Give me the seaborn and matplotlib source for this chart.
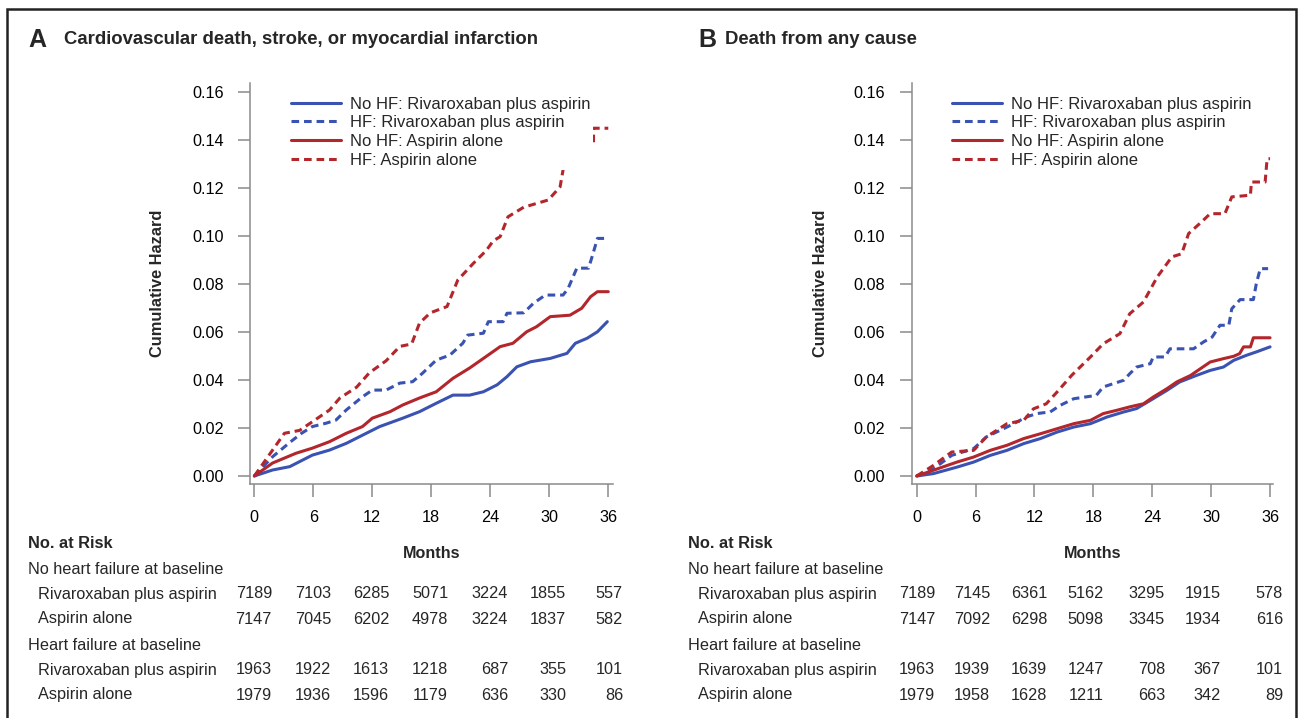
import numpy as np
import pandas as pd
import seaborn as sns
import matplotlib
matplotlib.use("Agg")
import matplotlib.pyplot as plt
from matplotlib.lines import Line2D
from matplotlib.patches import Rectangle

sns.set_theme(style="white")
plt.rcParams['font.family'] = ['Liberation Sans', 'DejaVu Sans']

# ---------------- data ----------------
series_labels = ["No HF: Rivaroxaban plus aspirin", "HF: Rivaroxaban plus aspirin",
                 "No HF: Aspirin alone", "HF: Aspirin alone"]

# Panel A: cardiovascular death, stroke, or MI
a_nohf_riva_t = [0, 1.85, 3.6, 5.9, 7.65, 9.35, 11.0, 12.75, 15.1, 16.8, 18.5, 20.2, 21.9, 23.3, 24.7,
                 25.7, 26.7, 28.1, 30.1, 31.8, 32.65, 33.85, 34.9, 35.9]
a_nohf_riva_y = [0, 0.0025, 0.0039, 0.0087, 0.0108, 0.0136, 0.017, 0.0206, 0.0241, 0.0268, 0.0303, 0.0337,
                 0.0337, 0.0351, 0.038, 0.0414, 0.0455, 0.0476, 0.049, 0.0511, 0.0553, 0.0574, 0.0601, 0.0643]
a_hf_riva_t = [0, 1.85, 3.7, 4.8, 5.9, 7.3, 8.3, 9.35, 11.0, 12.0, 13.4, 14.8, 16.1, 17.1, 18.5, 19.9, 21.2,
               21.7, 23.3, 23.8, 25.3, 25.7, 27.4, 28.4, 29.6, 31.4, 31.9, 32.8, 34.0, 34.4, 34.9, 35.9]
a_hf_riva_y = [0, 0.008, 0.0143, 0.0178, 0.0206, 0.022, 0.0233, 0.0275, 0.033, 0.0358, 0.0358, 0.0387, 0.0393,
               0.0428, 0.0483, 0.0504, 0.0553, 0.0587, 0.0595, 0.0643, 0.0643, 0.0678, 0.068, 0.072, 0.0754,
               0.0754, 0.078, 0.0866, 0.0866, 0.092, 0.099, 0.099]
a_nohf_asp_t = [0, 1.85, 4.25, 5.9, 7.65, 9.35, 11.0, 12.0, 13.8, 15.1, 16.8, 18.5, 20.2, 21.9, 23.3, 25.0,
                26.3, 27.7, 28.7, 30.1, 32.1, 33.3, 34.2, 34.9, 36.0]
a_nohf_asp_y = [0, 0.0054, 0.0095, 0.0116, 0.0143, 0.0178, 0.0206, 0.0241, 0.0268, 0.0296, 0.0325, 0.0351,
                0.0407, 0.045, 0.049, 0.0539, 0.0553, 0.0601, 0.0622, 0.0664, 0.067, 0.0699, 0.0747, 0.0768,
                0.0768]
a_hf_asp_t = [0, 3.06, 4.6, 5.9, 7.65, 8.7, 10.4, 11.7, 13.4, 14.8, 16.0, 16.8, 17.9, 19.6, 20.7, 22.3, 23.6,
              24.3, 25.0, 25.8, 27.4, 29.9, 31.1, 31.4, 31.5, 34.5, 34.5, 36.0]
a_hf_asp_y = [0, 0.0178, 0.019, 0.0226, 0.0275, 0.0325, 0.037, 0.043, 0.048, 0.054, 0.055, 0.0637, 0.068,
              0.0706, 0.0817, 0.0887, 0.094, 0.098, 0.0997, 0.108, 0.112, 0.115, 0.1205, 0.1275, 0.1387,
              0.1387, 0.1449, 0.1449]

# Panel B: death from any cause
b_nohf_riva_t = [0, 1.7, 4.1, 5.8, 7.5, 9.2, 10.9, 12.6, 14.3, 16.0, 17.7, 19.4, 21.1, 22.4, 23.8, 25.5,
                 26.8, 28.5, 29.9, 31.25, 32.3, 33.6, 34.6, 36.0]
b_nohf_riva_y = [0, 0.001, 0.0037, 0.0058, 0.0086, 0.0107, 0.0135, 0.0156, 0.0183, 0.0204, 0.0218, 0.0246,
                 0.0267, 0.0281, 0.0315, 0.0357, 0.0392, 0.0419, 0.044, 0.0454, 0.0482, 0.0503, 0.0517, 0.0538]
b_hf_riva_t = [0, 1.7, 3.57, 5.8, 7.1, 9.2, 11.2, 12.2, 13.6, 14.6, 16.0, 18.3, 19.0, 21.1, 21.7, 22.4, 23.8,
               24.1, 25.3, 25.8, 28.2, 29.2, 30.1, 30.9, 31.8, 32.1, 32.95, 34.3, 34.6, 35.0, 35.8]
b_hf_riva_y = [0, 0.003, 0.0086, 0.0114, 0.0163, 0.0204, 0.0246, 0.026, 0.0267, 0.0294, 0.0322, 0.0336,
               0.0371, 0.0399, 0.0426, 0.0454, 0.0468, 0.0496, 0.0496, 0.053, 0.053, 0.0558, 0.0579, 0.0628,
               0.0628, 0.0697, 0.0735, 0.0735, 0.0801, 0.0864, 0.0864]
b_nohf_asp_t = [0, 1.7, 4.1, 5.8, 7.5, 9.2, 10.9, 12.6, 14.3, 16.0, 17.7, 19.0, 20.4, 21.7, 23.1, 24.1, 25.5,
                26.5, 27.9, 28.9, 29.9, 31.25, 32.3, 32.9, 33.3, 34.0, 34.3, 36.0]
b_nohf_asp_y = [0, 0.0024, 0.0058, 0.0079, 0.0107, 0.0128, 0.0156, 0.0176, 0.0197, 0.0218, 0.0232, 0.026,
                0.0274, 0.0288, 0.0301, 0.0329, 0.0364, 0.0392, 0.0419, 0.0447, 0.0475, 0.0489, 0.0499,
                0.051, 0.0538, 0.0538, 0.0576, 0.0576]
b_hf_asp_t = [0, 1.7, 3.57, 5.8, 7.1, 9.2, 10.9, 11.9, 13.2, 14.3, 15.8, 17.7, 19.0, 20.7, 21.7, 23.1, 24.5,
              26.0, 27.0, 27.7, 29.0, 29.9, 31.4, 32.1, 34.0, 34.1, 35.5, 35.7, 36.0]
b_hf_asp_y = [0, 0.0044, 0.01, 0.0107, 0.0163, 0.0218, 0.0232, 0.028, 0.0301, 0.035, 0.042, 0.0496, 0.0551,
              0.0593, 0.0676, 0.0725, 0.0829, 0.0913, 0.0926, 0.101, 0.1058, 0.1093, 0.1093, 0.1163, 0.117,
              0.1225, 0.1225, 0.1322, 0.1322]

x_ticks = [0, 6, 12, 18, 24, 30, 36]
y_ticks = [0.00, 0.02, 0.04, 0.06, 0.08, 0.10, 0.12, 0.14, 0.16]

panel_letters = ["A", "B"]
panel_titles = ["Cardiovascular death, stroke, or myocardial infarction", "Death from any cause"]

risk_group_headers = ["No heart failure at baseline", "Heart failure at baseline"]
risk_row_labels = ["Rivaroxaban plus aspirin", "Aspirin alone"]
a_risk = [[7189, 7103, 6285, 5071, 3224, 1855, 557],
          [7147, 7045, 6202, 4978, 3224, 1837, 582],
          [1963, 1922, 1613, 1218, 687, 355, 101],
          [1979, 1936, 1596, 1179, 636, 330, 86]]
b_risk = [[7189, 7145, 6361, 5162, 3295, 1915, 578],
          [7147, 7092, 6298, 5098, 3345, 1934, 616],
          [1963, 1939, 1639, 1247, 708, 367, 101],
          [1979, 1958, 1628, 1211, 663, 342, 89]]

BLUE = "#3A53B2"
RED = "#B3262C"
colors = [BLUE, BLUE, RED, RED]
dashed = [False, True, False, True]

# ---------------- figure ----------------
W, H = 1302, 718
fig = plt.figure(figsize=(W / 100, H / 100), dpi=100)


def fx(px):
    return px / W


def fy(py):
    return 1 - py / H


axA = fig.add_axes([fx(250), fy(484), 362.7 / W, 401 / H])
axB = fig.add_axes([fx(911.7), fy(484), 361.3 / W, 401 / H])

panels = [
    (axA, [(a_nohf_riva_t, a_nohf_riva_y), (a_hf_riva_t, a_hf_riva_y),
           (a_nohf_asp_t, a_nohf_asp_y), (a_hf_asp_t, a_hf_asp_y)], (-0.44, 36.45)),
    (axB, [(b_nohf_riva_t, b_nohf_riva_y), (b_hf_riva_t, b_hf_riva_y),
           (b_nohf_asp_t, b_nohf_asp_y), (b_hf_asp_t, b_hf_asp_y)], (-0.51, 36.3)),
]

GRAY = "#8a8a8a"
LW = 2.2
DASH = [2.5, 1.6]
for ax, series, xlim in panels:
    handles = []
    for (t, v), lab, c, d in zip(series, series_labels, colors, dashed):
        df = pd.DataFrame({"month": t, "hazard": v})
        sns.lineplot(data=df, x="month", y="hazard", ax=ax, color=c, linewidth=LW,
                     estimator=None, legend=False)
        line = ax.lines[-1]
        if d:
            line.set_dashes(DASH)
        h = Line2D([], [], color=c, lw=LW)
        if d:
            h.set_dashes(DASH)
        handles.append(h)
    ax.set_xlim(*xlim)
    ax.set_ylim(-0.00333, 0.16375)
    ax.set_xticks(x_ticks)
    ax.set_yticks(y_ticks)
    ax.set_yticklabels([f"{v:.2f}" for v in y_ticks])
    for s in ["top", "right"]:
        ax.spines[s].set_visible(False)
    for s in ["left", "bottom"]:
        ax.spines[s].set_color(GRAY)
        ax.spines[s].set_linewidth(1.1)
    ax.tick_params(axis="both", which="major", length=9, width=1.1, color=GRAY,
                   labelsize=11.7, labelcolor="black", pad=10, direction="out",
                   bottom=True, left=True)
    ax.grid(False)
    ax.set_ylabel("Cumulative Hazard", fontsize=11.8, fontweight="bold", va="center")
    ax.yaxis.set_label_coords((158 - 250) / 362.7, 0.5)
    ax.set_xlabel("Months", fontsize=11.6, fontweight="bold", va="center")
    ax.xaxis.set_label_coords(0.5, -(553 - 484) / 401)
    leg = ax.legend(handles, series_labels, loc="upper left",
                    bbox_to_anchor=((288 - 250) / 362.7, (484 - 94) / 401),
                    frameon=True, facecolor="white", edgecolor="none", framealpha=1,
                    fontsize=12, handlelength=3.0, handletextpad=0.55, labelspacing=0.22,
                    borderpad=0.15, borderaxespad=0)
    leg.get_frame().set_boxstyle("square", pad=0)

# titles
for letter, title, lx, tx in zip(panel_letters, panel_titles, [28, 698], [64, 725]):
    fig.text(fx(lx), fy(47), letter, fontsize=18, fontweight="bold", ha="left", va="baseline")
    fig.text(fx(tx), fy(44), title, fontsize=13.3, fontweight="bold", ha="left", va="baseline")

# number at risk tables
row_y = [594, 619, 670, 695]
group_y = [569, 645]
for risk, x_head, x_row, col_right in [
        (a_risk, 28, 38, [272, 331, 389, 448, 508, 566, 623]),
        (b_risk, 688, 698, [935, 990, 1047, 1104, 1165, 1221, 1283])]:
    fig.text(fx(x_head), fy(544), "No. at Risk", fontsize=11.8, fontweight="bold",
             ha="left", va="center")
    for gy, gh in zip(group_y, risk_group_headers):
        fig.text(fx(x_head), fy(gy), gh, fontsize=11.7, ha="left", va="center")
    for i, ry in enumerate(row_y):
        fig.text(fx(x_row), fy(ry), risk_row_labels[i % 2], fontsize=11.7, ha="left", va="center")
        for val, cr in zip(risk[i], col_right):
            fig.text(fx(cr), fy(ry), str(val), fontsize=11.7, ha="right", va="center")

# outer border
fig.patches.append(Rectangle((fx(7), fy(730)), (1296 - 7) / W, (730 - 9) / H, fill=False,
                             lw=1.8, edgecolor="#222222", transform=fig.transFigure, zorder=0))

fig.savefig("out.png", dpi=100)
